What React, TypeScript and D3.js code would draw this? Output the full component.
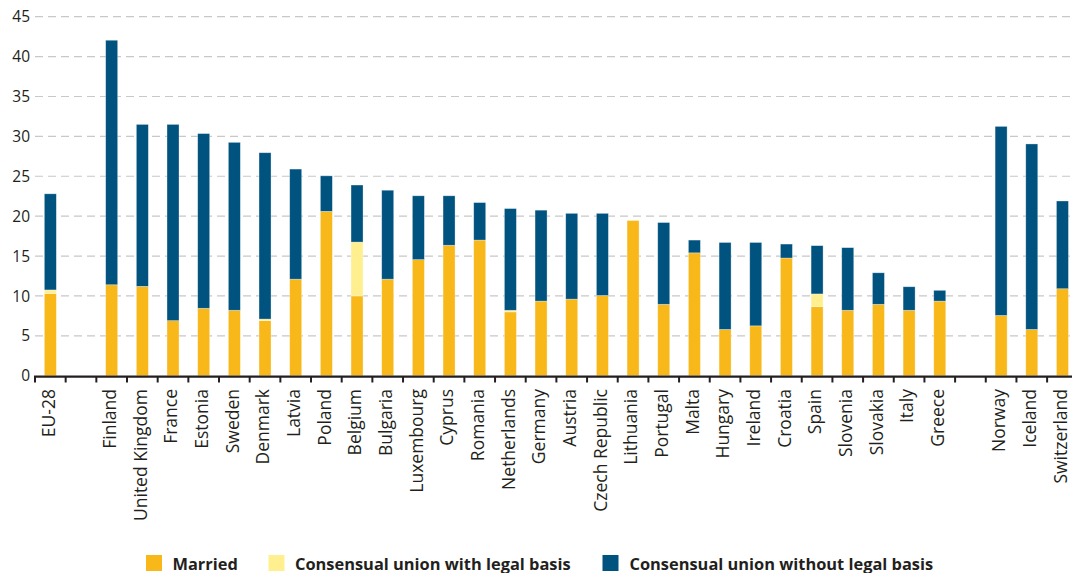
import React from "react";
import * as d3 from "d3";

const categories = [
  "EU-28", "", "Finland", "United Kingdom", "France", "Estonia", "Sweden", "Denmark",
  "Latvia", "Poland", "Belgium", "Bulgaria", "Luxembourg", "Cyprus", "Romania",
  "Netherlands", "Germany", "Austria", "Czech Republic", "Lithuania", "Portugal",
  "Malta", "Hungary", "Ireland", "Croatia", "Spain", "Slovenia", "Slovakia", "Italy",
  "Greece", " ", "Norway", "Iceland", "Switzerland",
];

const married = [
  10.3, 0, 11.4, 11.2, 6.9, 8.45, 8.2, 6.9,
  12.1, 20.6, 10.0, 12.1, 14.55, 16.35, 17.0,
  8.0, 9.35, 9.6, 10.05, 19.45, 8.95,
  15.4, 5.8, 6.25, 14.75, 8.65, 8.2, 8.95, 8.2,
  9.35, 0, 7.55, 5.8, 10.9,
];

const legalBasis = [
  0.45, 0, 0, 0, 0, 0, 0, 0.2,
  0, 0, 6.75, 0, 0, 0, 0,
  0.2, 0, 0, 0, 0, 0,
  0, 0, 0, 0, 1.6, 0, 0, 0,
  0, 0, 0, 0, 0,
];

const withoutLegalBasis = [
  12.05, 0, 30.65, 20.3, 24.6, 21.9, 21.05, 20.85,
  13.8, 4.45, 7.15, 11.15, 8.0, 6.2, 4.7,
  12.75, 11.4, 10.75, 10.3, 0, 10.25,
  1.6, 10.9, 10.45, 1.75, 6.05, 7.85, 3.95, 2.95,
  1.35, 0, 23.7, 23.25, 11.0,
];

const seriesKeys = ["married", "legal", "without"];
const seriesLabels = ["Married", "Consensual union with legal basis", "Consensual union without legal basis"];
const seriesColors = ["#F8B81A", "#FFEF8E", "#00537F"];
const yTicks = [0, 5, 10, 15, 20, 25, 30, 35, 40, 45];

const W = 1072;
const H = 573;
const FONT = "'Open Sans', Lato, sans-serif";

export default function App() {
  const rows = categories.map((c, i) => ({
    cat: c,
    married: married[i],
    legal: legalBasis[i],
    without: withoutLegalBasis[i],
  }));

  const left = 35;
  const step = 30.67;
  const x = d3.scaleBand<string>()
    .domain(categories)
    .range([left, left + step * categories.length])
    .padding(0);
  const y = d3.scaleLinear().domain([0, 45]).range([375.7, 16.7]);

  const stack = d3.stack<any>().keys(seriesKeys);
  const stacked = stack(rows);
  const barW = 12;
  const bw = x.bandwidth();

  const boundaries = categories.map((c) => x(c) as number);
  boundaries.push((x(categories[categories.length - 1]) as number) + bw);

  const legendItems = [
    { sq: 146, tx: 172.5 },
    { sq: 268.5, tx: 295 },
    { sq: 602.5, tx: 629.5 },
  ];

  return (
    <svg width={W} height={H} style={{ position: "absolute", left: 0, top: 0, background: "#fff" }}>
      {/* gridlines */}
      {yTicks.filter((t) => t > 0).map((t) => (
        <line key={t} x1={left} x2={W} y1={y(t)} y2={y(t)}
          stroke="#c8c8c8" strokeWidth={1.2} strokeDasharray="8,5" />
      ))}
      {/* y labels */}
      {yTicks.map((t) => (
        <text key={t} x={30} y={y(t)} dy="0.36em" textAnchor="end"
          fontFamily={FONT} fontSize={15.5} fill="#231f20">{t}</text>
      ))}
      {/* bars */}
      {stacked.map((s, si) => (
        <g key={s.key} fill={seriesColors[si]}>
          {s.map((d, i) => {
            const h = y(d[0]) - y(d[1]);
            if (h <= 0.01) return null;
            return (
              <rect key={i}
                x={(x(categories[i]) as number) + (bw - barW) / 2}
                y={y(d[1])}
                width={barW}
                height={h}
                stroke="rgba(255,255,255,0.45)"
                strokeWidth={0.7}
              />
            );
          })}
        </g>
      ))}
      {/* x axis */}
      <line x1={left - 1} x2={W} y1={376.7} y2={376.7} stroke="#231f20" strokeWidth={2.2} />
      {boundaries.map((b, i) => (
        <line key={i} x1={b} x2={b} y1={376} y2={382.5} stroke="#231f20" strokeWidth={2} />
      ))}
      {/* x labels */}
      {categories.map((c, i) => c.trim() === "" ? null : (
        <text key={i}
          transform={`translate(${(x(c) as number) + bw / 2 - 2},389) rotate(-90)`}
          dy="0.36em" textAnchor="end"
          fontFamily={FONT} fontSize={17.5} fill="#231f20">{c}</text>
      ))}
      {/* legend */}
      {legendItems.map((l, i) => (
        <g key={i}>
          <rect x={l.sq} y={555} width={16} height={16} fill={seriesColors[i]} />
          <text x={l.tx} y={569.5} fontFamily={FONT} fontWeight="bold" fontSize={16.4} fill="#231f20">
            {seriesLabels[i]}
          </text>
        </g>
      ))}
    </svg>
  );
}
